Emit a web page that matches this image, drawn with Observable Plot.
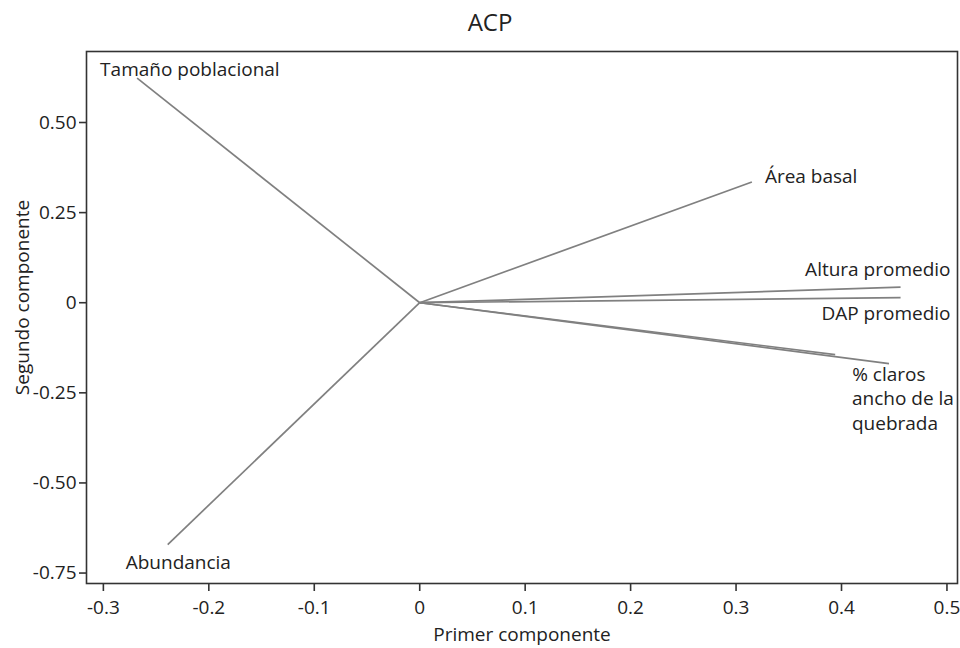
<!DOCTYPE html>
<html>
<head>
<meta charset="utf-8">
<script src="https://cdn.jsdelivr.net/npm/d3@7"></script>
<script src="https://cdn.jsdelivr.net/npm/@observablehq/plot@0.6"></script>
<style>
  body { margin: 0; background: #fff; font-family: "Open Sans", sans-serif; }
  #title { height: 40px; width: 980px; text-align: center; font-size: 24px; line-height: 44px; color: #222; }
  svg { display: block; }
</style>
</head>
<body>
<div id="title">ACP</div>
<div id="chart"></div>
<script>
// Variables and loadings (first and second principal components)
const variables = ["Tamaño poblacional", "Área basal", "Altura promedio", "DAP promedio", "% claros", "ancho de la quebrada", "Abundancia"];
const pc1 = [-0.268, 0.315, 0.456, 0.456, 0.394, 0.445, -0.239];
const pc2 = [0.623, 0.335, 0.043, 0.014, -0.144, -0.169, -0.671];
const labels = ["Tamaño poblacional", "Área basal", "Altura promedio", "DAP promedio", "% claros", "ancho de la\nquebrada", "Abundancia"];
const xTicks = [-0.3, -0.2, -0.1, 0, 0.1, 0.2, 0.3, 0.4, 0.5];
const yTicks = [-0.75, -0.5, -0.25, 0, 0.25, 0.5];

const data = variables.map((v, i) => ({name: v, label: labels[i], x: pc1[i], y: pc2[i]}));

// label placement (pixel offsets from the arrow tip)
const place = {
  "Tamaño poblacional": {dx: -37, dy: -10, anchor: "start"},
  "Área basal": {dx: 13, dy: -7, anchor: "start"},
  "Altura promedio": {dx: 50, dy: -19, anchor: "end"},
  "DAP promedio": {dx: 50, dy: 14, anchor: "end"},
  "% claros": {dx: 17, dy: 18, anchor: "start"},
  "ancho de la quebrada": {dx: -37, dy: 46, anchor: "start"},
  "Abundancia": {dx: -42, dy: 16, anchor: "start"}
};

const font = "'Open Sans', sans-serif";
const axisColor = "#333";
const FS = 19;

const plot = Plot.plot({
  width: 960,
  height: 608,
  marginTop: 11,
  marginBottom: 65,
  marginLeft: 86,
  marginRight: 3,
  style: {fontFamily: font, fontSize: FS + "px", color: "#222", background: "#fff"},
  x: {domain: [-0.316, 0.51], label: null},
  y: {domain: [-0.779, 0.697], label: null},
  marks: [
    Plot.frame({stroke: axisColor, strokeWidth: 1.6}),
    Plot.axisX({ticks: xTicks, tickFormat: d => d === 0 ? "0" : d.toFixed(1).replace("−", "-"), tickSize: 8, tickPadding: 9, stroke: axisColor, strokeWidth: 1.6, fontSize: FS, fill: "#222", label: null}),
    Plot.axisY({ticks: yTicks, tickFormat: d => d === 0 ? "0" : d.toFixed(2), tickSize: 7, tickPadding: 3, stroke: axisColor, strokeWidth: 1.6, fontSize: FS, fill: "#222", label: null}),
    Plot.text(["Primer componente"], {frameAnchor: "bottom", dy: 57, fontSize: FS, fill: "#222"}),
    Plot.text(["Segundo componente"], {frameAnchor: "left", dx: -64, dy: -20, rotate: -90, textAnchor: "middle", fontSize: FS, fill: "#222"}),
    Plot.link(data, {x1: 0, y1: 0, x2: "x", y2: "y", stroke: "#808080", strokeWidth: 1.7}),
    ...data.map(d => Plot.text([d], {
      x: "x", y: "y", text: "label",
      dx: place[d.name].dx, dy: place[d.name].dy, textAnchor: place[d.name].anchor,
      lineHeight: 25 / FS, fontSize: FS, fill: "#222"
    }))
  ]
});
document.getElementById("chart").appendChild(plot);
</script>
</body>
</html>
